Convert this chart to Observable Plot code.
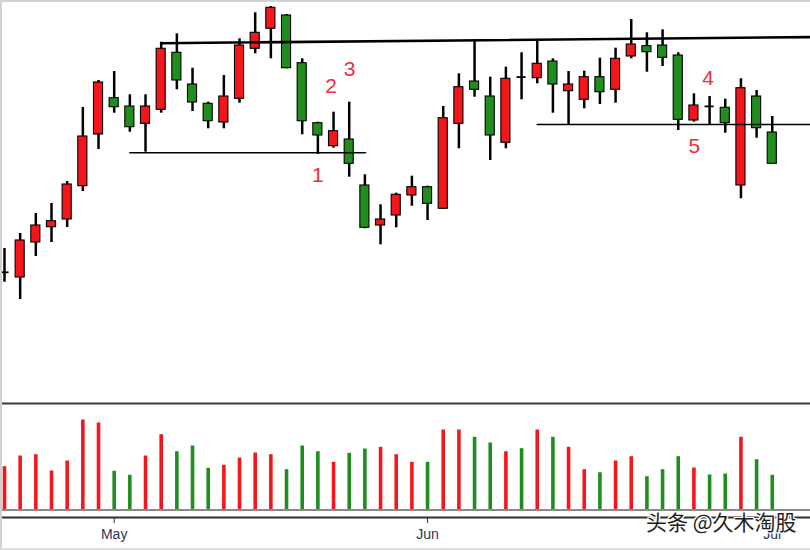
<!DOCTYPE html>
<html>
<head>
<meta charset="utf-8">
<script src="https://cdn.jsdelivr.net/npm/d3@7"></script>
<script src="https://cdn.jsdelivr.net/npm/@observablehq/plot@0.6"></script>
<style>
  body { margin: 0; background: #fff; }
  #wrap { position: relative; width: 810px; height: 550px; overflow: hidden; font-family: "Liberation Sans", Arial, sans-serif; }
  #wrap svg { display: block; }
  #border { position: absolute; left: 0; top: 0; width: 810px; height: 550px; box-sizing: border-box;
            border-left: 2px solid #d2d2d2; border-top: 2px solid #d2d2d2; border-bottom: 2px solid #e0e0e0; pointer-events: none; }
  #mark { position: absolute; left: 646px; top: 511px; font-family: "Noto Sans CJK SC", sans-serif; font-size: 21px; line-height: 21px;
          color: #1e1e1e; white-space: nowrap;
          text-shadow: 1px 0 0 #fff, -1px 0 0 #fff, 0 1px 0 #fff, 0 -1px 0 #fff, 1px 1px 0 #fff, -1px -1px 0 #fff, 1px -1px 0 #fff, -1px 1px 0 #fff; }
</style>
</head>
<body>
<div id="wrap">
  <div id="main"></div>
  <div id="vol"></div>
  <div id="mark">头条 @久木淘股</div>
  <div id="border"></div>
</div>
<script>
// ---- data (daily bars, index 0..49) ----
const open  = [12.82,12.3,15.8,17.33,18.1,21.43,26.6,30.23,29.4,27.67,29.07,34.77,31.6,29.67,27.8,30.17,35.17,37.17,38.5,33.73,27.73,25.43,26.1,21.5,17.5,18.5,20.5,21.33,19.17,27.67,31.9,30.4,25.77,32.34,32.23,33.9,30.93,30.07,32.33,31.07,34.4,35.43,35.5,34.5,28.0,29.41,29.27,21.5,30.4,26.8];
const high  = [15.2,16.7,18.7,19.7,21.9,29.3,32.0,32.9,30.57,30.57,35.83,36.67,33.23,29.83,32.5,36.17,38.77,39.4,38.6,34.17,27.83,28.83,29.83,22.57,19.57,20.73,22.43,21.43,29.4,32.67,36.0,32.33,33.33,34.77,36.07,34.17,32.9,32.93,34.23,35.23,38.1,36.77,37.07,34.77,30.67,30.4,30.13,32.17,31.0,28.4];
const low   = [11.83,10.1,14.4,15.8,17.3,20.9,25.1,28.73,26.83,24.83,28.73,31.07,28.9,27.17,27.17,29.73,34.67,34.17,33.17,26.57,24.6,25.23,22.33,17.17,15.57,17.27,19.43,18.0,19.17,25.17,30.33,24.0,25.17,30.07,31.67,28.73,27.6,29.17,29.6,29.73,34.17,32.83,33.4,27.0,27.83,27.6,26.73,20.17,26.23,23.67];
const close = [12.84,16.0,17.5,17.93,21.6,26.4,31.8,29.33,27.33,29.4,35.17,32.0,29.8,27.93,30.4,35.5,36.77,39.27,33.23,27.93,26.5,26.93,23.67,17.27,18.1,20.57,21.33,19.67,28.23,31.33,31.07,26.5,32.17,32.32,33.67,31.6,31.6,32.33,30.83,34.17,35.6,34.83,34.27,28.07,29.5,29.39,27.73,31.23,27.23,23.67];
const volume = [43.3,54,55.3,39,49,90,87,38.7,34.7,54,75.3,58.3,64,41.7,44.7,52,57,55.3,40.3,64,58.3,47.7,56.7,61,62.7,55.3,47.7,47.7,80,80,72.7,67,58.3,61.3,80,72.7,62.7,40.3,37.3,49,53.3,33.3,40.3,53.3,42,35,36,72.7,50.3,34.7];

// month ticks (bar index of first trading day)
const tickIdx = [7, 27, 49];
const tickLabels = ["May", "Jun", "Jul"];

// drawn trend lines (bar index, price)
const resistIdx = [10, 51.5];
const resistPrice = [35.73, 36.34];
const support1Idx = [8, 23.04];
const support1Price = [24.77, 24.77];
const support2Idx = [34, 51.5];
const support2Price = [27.6, 27.6];

// numbered annotations
const noteText = ["1", "2", "3", "4", "5"];
const noteIdx = [20.0, 20.85, 22.02, 44.9, 44.03];
const notePrice = [22.53, 31.4, 33.17, 32.25, 25.4];

// ---- build ----
const RED = "#f4161b", GREEN = "#1f8e1f";
const candles = open.map((o, i) => ({
  i, open: o, high: high[i], low: low[i], close: close[i], vol: volume[i], up: close[i] >= o
}));
const HW = 0.29; // half body width in bars
const dojis = candles.filter(d => Math.abs(d.close - d.open) < 0.05);
const xDomain = [-0.255, 51.44];

const lineOf = (idx, price) => idx.map((x, k) => ({x, y: price[k]}));

const main = Plot.plot({
  width: 810, height: 401,
  marginTop: 0, marginRight: 0, marginBottom: 0, marginLeft: 0,
  x: {domain: xDomain, range: [0, 810], axis: null},
  y: {domain: [0, 40], range: [400, 0], axis: null},
  marks: [
    Plot.ruleX(candles, {x: "i", y1: "low", y2: "high", stroke: "#000", strokeWidth: 2.5}),
    Plot.rect(candles.filter(d => !dojis.includes(d)), {
      x1: d => d.i - HW, x2: d => d.i + HW,
      y1: d => Math.min(d.open, d.close), y2: d => Math.max(d.open, d.close),
      fill: d => d.up ? RED : GREEN, stroke: "#000", strokeWidth: 1.1
    }),
    Plot.ruleY(dojis, {y: "open", x1: d => d.i - HW, x2: d => d.i + HW, stroke: "#000", strokeWidth: 1.8}),
    Plot.line(lineOf(resistIdx, resistPrice), {x: "x", y: "y", stroke: "#000", strokeWidth: 2.6}),
    Plot.line(lineOf(support1Idx, support1Price), {x: "x", y: "y", stroke: "#000", strokeWidth: 1.6}),
    Plot.line(lineOf(support2Idx, support2Price), {x: "x", y: "y", stroke: "#000", strokeWidth: 1.6}),
    Plot.text(noteText, {
      x: (d, k) => noteIdx[k], y: (d, k) => notePrice[k], text: d => d,
      fill: "#e8303a", fontSize: 21, fontFamily: "Liberation Sans, Arial, sans-serif"
    })
  ]
});
document.getElementById("main").appendChild(main);

const vol = Plot.plot({
  width: 810, height: 149,
  marginTop: 2, marginRight: 0, marginBottom: 33, marginLeft: 0,
  style: {fontSize: "14px", fontFamily: "Liberation Sans, Arial, sans-serif", color: "#2c3652", background: "transparent"},
  x: {domain: xDomain, range: [0, 810], ticks: tickIdx, tickFormat: d => tickLabels[tickIdx.indexOf(d)], tickSize: 6, tickPadding: 6, label: null},
  y: {domain: [-7.5, 106.5], axis: null},
  marks: [
    Plot.ruleY([106.5], {stroke: "#3a3a3a", strokeWidth: 2}),
    Plot.ruleY([-7.5], {stroke: "#2e2e2e", strokeWidth: 2.2}),
    Plot.ruleX(candles, {x: "i", y1: 0, y2: "vol", stroke: d => d.up ? RED : GREEN, strokeWidth: 3.6}),
    Plot.ruleY([0], {stroke: "#8a8a8a", strokeWidth: 2})
  ]
});
document.getElementById("vol").appendChild(vol);
</script>
</body>
</html>
